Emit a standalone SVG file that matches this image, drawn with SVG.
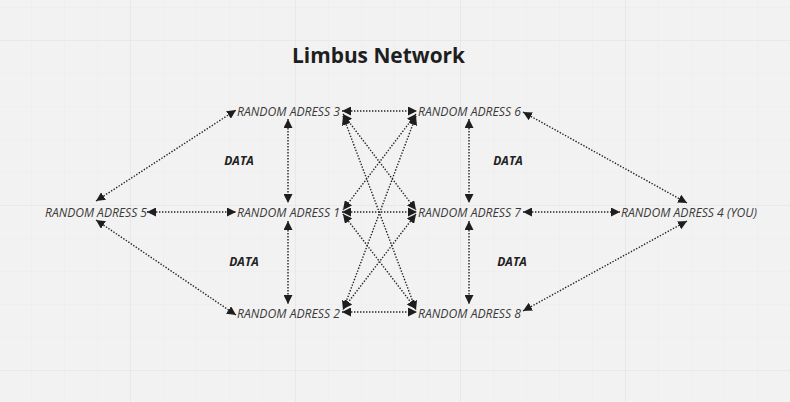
<svg xmlns="http://www.w3.org/2000/svg" width="790" height="402" viewBox="0 0 790 402">
<defs>
<pattern id="minor" x="31" y="7" width="33" height="33" patternUnits="userSpaceOnUse">
<path d="M0,0 V33 M0,0 H33" fill="none" stroke="#ebebeb" stroke-width="1"/>
</pattern>
<pattern id="major" x="130" y="40" width="165" height="165" patternUnits="userSpaceOnUse">
<path d="M0,0 V165 M0,0 H165" fill="none" stroke="#e3e3e3" stroke-width="1.2"/>
</pattern>
<marker id="ah" viewBox="0 0 10 10" refX="10" refY="5" markerWidth="9" markerHeight="9" markerUnits="userSpaceOnUse" orient="auto-start-reverse">
<path d="M0,0 L10,5 L0,10 z" fill="#1e1e1e"/>
</marker>
<style>
.lbl{font-family:"Open Sans","Liberation Sans",sans-serif;font-style:italic;font-size:13px;fill:#3a3a3a;text-anchor:middle}
.data{font-family:"Open Sans","Liberation Sans",sans-serif;font-style:italic;font-weight:bold;font-size:12px;fill:#222;text-anchor:middle}
.title{font-family:"Open Sans","Liberation Sans",sans-serif;font-weight:bold;font-size:21px;fill:#1e1e1e;text-anchor:middle}
.c{stroke:#222;stroke-width:1.4;stroke-dasharray:1.4 1.6;fill:none;marker-start:url(#ah);marker-end:url(#ah)}
</style>
</defs>
<rect width="790" height="402" fill="#f2f2f2"/>
<rect width="790" height="402" fill="url(#minor)"/>
<rect width="790" height="402" fill="url(#major)"/>

<text class="title" x="378.5" y="63" textLength="173" lengthAdjust="spacingAndGlyphs">Limbus Network</text>

<g id="connectors">
<line class="c" x1="96" y1="201" x2="236" y2="110"/>
<line class="c" x1="96" y1="220" x2="236" y2="315"/>
<line class="c" x1="147" y1="212" x2="236" y2="212"/>
<line class="c" x1="288" y1="119" x2="288" y2="203"/>
<line class="c" x1="288" y1="221" x2="288" y2="304"/>
<line class="c" x1="469" y1="119" x2="469" y2="203"/>
<line class="c" x1="469" y1="221" x2="469" y2="304"/>
<line class="c" x1="342" y1="111" x2="417" y2="111"/>
<line class="c" x1="342" y1="212" x2="417" y2="212"/>
<line class="c" x1="342" y1="312" x2="417" y2="312"/>
<line class="c" x1="343" y1="114" x2="416" y2="210"/>
<line class="c" x1="343" y1="116" x2="416" y2="310"/>
<line class="c" x1="416" y1="114" x2="343" y2="210"/>
<line class="c" x1="416" y1="116" x2="343" y2="310"/>
<line class="c" x1="343" y1="214" x2="416" y2="309"/>
<line class="c" x1="416" y1="214" x2="343" y2="309"/>
<line class="c" x1="523" y1="112" x2="687" y2="203"/>
<line class="c" x1="523" y1="311" x2="687" y2="221"/>
<line class="c" x1="523" y1="212" x2="620" y2="212"/>
</g>

<g id="node-ra3"><text class="lbl" x="288.5" y="115.5" textLength="103" lengthAdjust="spacingAndGlyphs">RANDOM ADRESS 3</text></g>
<g id="node-ra6"><text class="lbl" x="469.5" y="115.5" textLength="103" lengthAdjust="spacingAndGlyphs">RANDOM ADRESS 6</text></g>
<g id="node-ra1"><text class="lbl" x="288.5" y="216.5" textLength="103" lengthAdjust="spacingAndGlyphs">RANDOM ADRESS 1</text></g>
<g id="node-ra7"><text class="lbl" x="469.5" y="216.5" textLength="103" lengthAdjust="spacingAndGlyphs">RANDOM ADRESS 7</text></g>
<g id="node-ra2"><text class="lbl" x="288.5" y="317.5" textLength="103" lengthAdjust="spacingAndGlyphs">RANDOM ADRESS 2</text></g>
<g id="node-ra8"><text class="lbl" x="469.5" y="317.5" textLength="103" lengthAdjust="spacingAndGlyphs">RANDOM ADRESS 8</text></g>
<g id="node-ra5"><text class="lbl" x="96" y="216.5" textLength="102" lengthAdjust="spacingAndGlyphs">RANDOM ADRESS 5</text></g>
<g id="node-ra4"><text class="lbl" x="689" y="216.5" textLength="136" lengthAdjust="spacingAndGlyphs">RANDOM ADRESS 4 (YOU)</text></g>

<g id="label-data-1"><text class="data" x="239" y="165">DATA</text></g>
<g id="label-data-2"><text class="data" x="244" y="266">DATA</text></g>
<g id="label-data-3"><text class="data" x="508" y="165">DATA</text></g>
<g id="label-data-4"><text class="data" x="512" y="266">DATA</text></g>
</svg>
